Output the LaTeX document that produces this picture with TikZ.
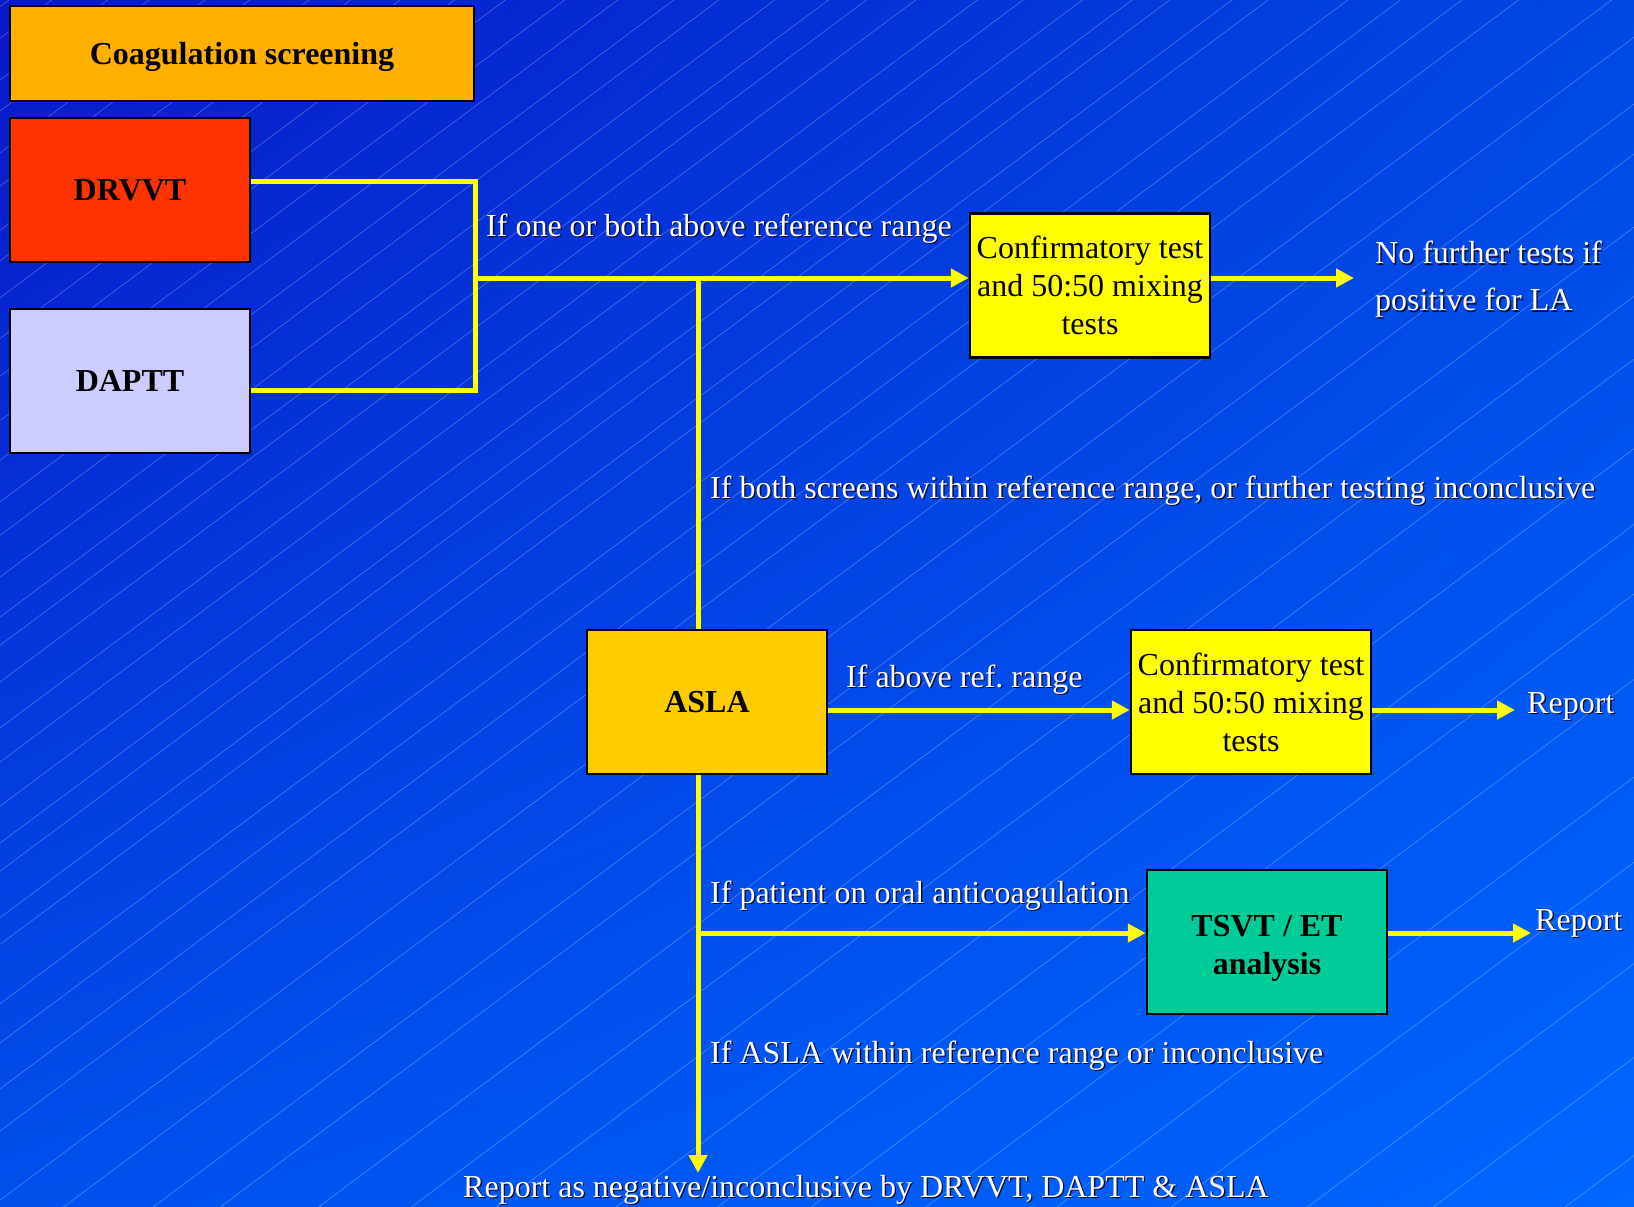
\documentclass[tikz,border=0pt]{standalone}
\usepackage{fontspec}
\setmainfont{Liberation Serif}
\usetikzlibrary{arrows.meta,shadings}
\definecolor{bgUL}{HTML}{0818C8}
\definecolor{bgUR}{HTML}{0048E4}
\definecolor{bgLL}{HTML}{0050EC}
\definecolor{bgLR}{HTML}{0066FF}
\definecolor{coagc}{HTML}{FFB000}
\definecolor{drvvtc}{HTML}{FF3300}
\definecolor{dapttc}{HTML}{CCCCFF}
\definecolor{aslac}{HTML}{FFCC00}
\definecolor{confc}{HTML}{FFFF00}
\definecolor{tsvtc}{HTML}{00CC99}
\definecolor{liney}{HTML}{FFFF00}
\definecolor{shadowc}{HTML}{0A0A30}
\newcommand\shd[1]{\leavevmode\rlap{\kern1.4pt\raisebox{-1.4pt}{\color{shadowc}#1}}#1}
\frenchspacing
\begin{document}
\begin{tikzpicture}[x=1pt,y=-1pt,
  box/.style={draw=black, line width=2.5pt, minimum width=240pt, minimum height=144pt,
    inner sep=0pt, align=center, text=black, font=\fontsize{32}{38}\selectfont},
  btext/.style={font=\fontsize{32}{38}\selectfont\bfseries},
  conn/.style={draw=liney, line width=5pt},
  arr/.style={conn, -{Triangle[length=18pt,width=18pt]}},
  lbl/.style={text=white, inner sep=0pt, anchor=base west, font=\fontsize{32}{38}\selectfont},
  bgline/.style={draw=white, opacity=0.3, line width=0.6pt}]
% background
\useasboundingbox (0,0) rectangle (1634,1207);
\shade[upper left=bgUL, upper right=bgUR, lower left=bgLL, lower right=bgLR] (0,0) rectangle (1634,1207);
\begin{scope}
\clip (0,0) rectangle (1634,1207);
\pgfmathsetseed{11}
\foreach \n in {0,...,48}{
  \pgfmathsetmacro\cc{38*\n + 1.5*max(0,\n-24)*max(0,\n-24) + 10*rand}
  \draw[bgline] (0,\cc) -- (1634,\cc-1217);
}
\end{scope}
% boxes
\node[box, btext, fill=coagc, minimum width=464pt, minimum height=95pt, text depth=0pt] (coag) at (242,53.5) {Coagulation screening};
\node[box, btext, fill=drvvtc] (drvvt) at (130,190) {DRVVT};
\node[box, btext, fill=dapttc] (daptt) at (130,381) {DAPTT};
\node[box, fill=confc] (conf1) at (1090,285.5) {Confirmatory test\\and 50:50 mixing\\tests};
\node[box, btext, fill=aslac] (asla) at (707,702) {ASLA};
\node[box, fill=confc] (conf2) at (1251,702) {Confirmatory test\\and 50:50 mixing\\tests};
\node[box, btext, fill=tsvtc] (tsvt) at (1267,942) {\rule{0pt}{33pt}TSVT / ET\\analysis};
% labels
\node[lbl] (l1) at (486,236) {\shd{If one or both above reference range}};
\node[lbl, anchor=north west, align=left, font=\fontsize{32}{47}\selectfont] (nofurther) at (1375,241) {\shd{No further tests if}\\\shd{positive for LA}};
\node[lbl] (l2) at (710,498) {\shd{If both screens within reference range, or further testing inconclusive}};
\node[lbl] (l3) at (846,687) {\shd{If above ref. range}};
\node[lbl] (rep1) at (1527,713) {\shd{Report}};
\node[lbl] (l4) at (710,903) {\shd{If patient on oral anticoagulation}};
\node[lbl] (rep2) at (1535,930) {\shd{Report}};
\node[lbl] (l5) at (710,1063) {\shd{If ASLA within reference range or inconclusive}};
\node[lbl] (bottom) at (463,1197) {\shd{Report as negative/inconclusive by DRVVT, DAPTT \& ASLA}};
% junction coordinates
\coordinate (j1) at (475,181);
\coordinate (j2) at (475,390);
\coordinate (jm) at (475,278);
\coordinate (jb) at (698,278);
\coordinate (ja) at (698,710);
\coordinate (jt) at (698,933);
\coordinate (jend) at (698,1173);
% connectors
\draw[conn, line join=miter] (drvvt.east |- j1) -- (j1) -- (j2) -- (daptt.east |- j2);
\draw[arr] (jm) -- (conf1.west |- jm);
\draw[conn] (jb) -- (asla.north -| jb);
\draw[arr, shorten >=21pt] (conf1.east |- jm) -- (nofurther.west |- jm);
\draw[arr] (asla.east |- ja) -- (conf2.west |- ja);
\draw[arr, shorten >=12pt] (conf2.east |- ja) -- (rep1.west |- ja);
\draw[arr] (asla.south -| jb) -- (jend);
\draw[arr] (jt) -- (tsvt.west |- jt);
\draw[arr, shorten >=4pt] (tsvt.east |- jt) -- (rep2.west |- jt);
\end{tikzpicture}
\end{document}
